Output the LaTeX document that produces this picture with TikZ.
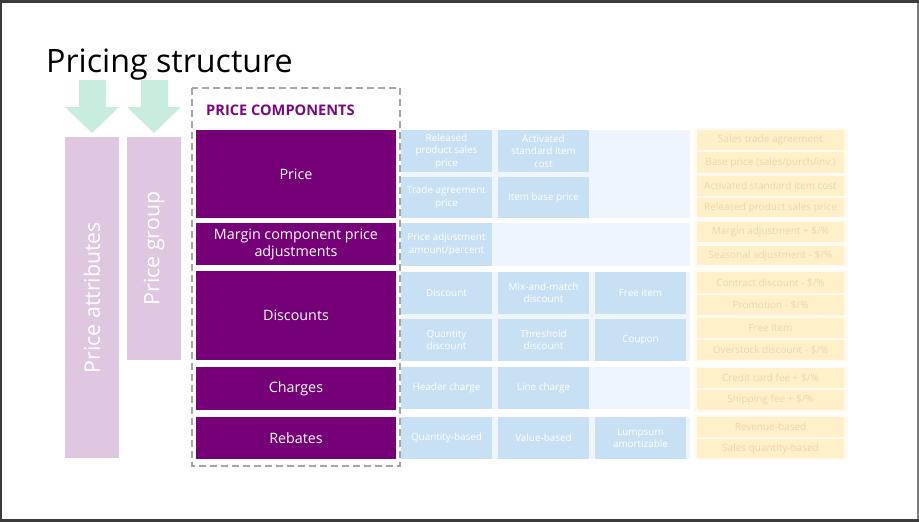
\documentclass[tikz,border=0pt]{standalone}
\usepackage{fontspec}
\setmainfont{Open Sans}
\definecolor{purp}{HTML}{750078}
\definecolor{purptxt}{HTML}{7B0A7F}
\definecolor{lav}{HTML}{DFC6E1}
\definecolor{mint}{HTML}{C8EDDC}
\definecolor{bboxc}{HTML}{C7E0F4}
\definecolor{bpanel}{HTML}{EEF5FC}
\definecolor{yboxc}{HTML}{FFF0C9}
\definecolor{ytext}{HTML}{EAD6AE}
\definecolor{ypanel}{HTML}{FFFAF0}
\definecolor{dashgray}{HTML}{A6A6A6}
\definecolor{framegray}{HTML}{3B3B3B}
\tikzset{
  pbox/.style={fill=purp, text=white, inner sep=0pt, minimum width=200pt, align=center, font=\fontsize{14.3}{17}\selectfont},
  bluebox/.style={fill=bboxc, text=white, minimum width=91pt, minimum height=42pt, inner sep=0pt, align=center, font=\fontsize{9.9}{12.5}\selectfont},
  ybox/.style={fill=yboxc, text=ytext, minimum width=147pt, minimum height=20pt, inner sep=0pt, font=\fontsize{10}{12}\selectfont},
  lavbar/.style={fill=lav, text=white, rotate=90, inner sep=0pt, minimum height=54pt, font=\fontsize{21.3}{25}\selectfont},
  arrowshape/.style={fill=mint},
  bpanelst/.style={fill=bpanel},
  ypanelst/.style={fill=ypanel},
}
\begin{document}
\begin{tikzpicture}[x=1pt,y=-1pt]
\useasboundingbox (0,0) rectangle (919,522);
% frame
\fill[framegray] (0,0) rectangle (919,522);
\fill[white] (2,3) rectangle (916.5,519);
\fill[gray] (916.5,3) rectangle (919,519);
% title
\node[anchor=base west, inner sep=0pt, font=\fontsize{32.2}{36}\selectfont] (title) at (46,72) {Pricing structure};
% green arrows
\fill[arrowshape] (79,80) -- (106,80) -- (106,107) -- (119,107) -- (92,133) -- (65,107) -- (79,107) -- cycle;
\fill[arrowshape] (141,80) -- (168,80) -- (168,107) -- (181,107) -- (154,133) -- (127,107) -- (141,107) -- cycle;
% lavender bars
\node[lavbar, minimum width=321pt] (attr) at (92,297.5) {Price attributes};
\node[lavbar, minimum width=223pt] (group) at (154,248.5) {Price group};
% purple boxes
\node[pbox, minimum height=88pt] (price) at (296,174) {Price};
\node[pbox, minimum height=42pt] (margin) at (296,244) {Margin component price\\adjustments};
\node[pbox, minimum height=89pt] (disc) at (296,315.5) {Discounts};
\node[pbox, minimum height=43pt] (charges) at (296,388.5) {Charges};
\node[pbox, minimum height=42pt] (rebates) at (296,438) {Rebates};
% components heading
\node[anchor=base west, inner sep=0pt, text=purptxt, font=\bfseries\fontsize{14.6}{17}\selectfont] (comp) at (206,115.5) {PRICE COMPONENTS};
% dashed box
\draw[dashgray, line width=1.6pt, dash pattern=on 7pt off 4pt] (192,88) rectangle (400,466);
% blue panels
\fill[bpanelst] (401,130) rectangle (690,218);
\fill[bpanelst] (401,223) rectangle (690,266);
\fill[bpanelst] (401,272) rectangle (690,361);
\fill[bpanelst] (401,367) rectangle (690,409);
\fill[bpanelst] (401,417) rectangle (690,459);
% blue boxes
\node[bluebox] (b11) at (446.5,151) {Released\\product sales\\price};
\node[bluebox] (b12) at (543.5,151) {Activated\\standard item\\cost};
\node[bluebox, minimum height=41pt] (b21) at (446.5,197.5) {Trade agreement\\price};
\node[bluebox, minimum height=41pt] (b22) at (543.5,197.5) {Item base price};
\node[bluebox, minimum height=43pt] (b31) at (446.5,244.5) {Price adjustment\\amount/percent};
\node[bluebox] (b41) at (446.5,293) {Discount};
\node[bluebox] (b42) at (543.5,293) {Mix-and-match\\discount};
\node[bluebox] (b43) at (640.5,293) {Free item};
\node[bluebox] (b51) at (446.5,340) {Quantity\\discount};
\node[bluebox] (b52) at (543.5,340) {Threshold\\discount};
\node[bluebox] (b53) at (640.5,340) {Coupon};
\node[bluebox] (b61) at (446.5,388) {Header charge};
\node[bluebox] (b62) at (543.5,388) {Line charge};
\node[bluebox] (b71) at (446.5,438) {Quantity-based};
\node[bluebox] (b72) at (543.5,438) {Value-based};
\node[bluebox] (b73) at (640.5,438) {Lumpsum\\amortizable};
% yellow panels
\fill[ypanelst] (694,128) rectangle (848,219);
\fill[ypanelst] (694,220) rectangle (848,267);
\fill[ypanelst] (694,270) rectangle (848,362);
\fill[ypanelst] (694,366) rectangle (848,412);
\fill[ypanelst] (694,415) rectangle (848,460);
% yellow boxes
\node[ybox] (y1) at (770.5,140) {Sales trade agreement};
\node[ybox, minimum height=21pt] (y2) at (770.5,162.5) {Base price (sales/purch/inv.)};
\node[ybox] (y3) at (770.5,186) {Activated standard item cost};
\node[ybox, minimum height=19pt] (y4) at (770.5,207.5) {Released product sales price};
\node[ybox] (y5) at (770.5,232) {Margin adjustment + \$/\%};
\node[ybox, minimum height=19pt] (y6) at (770.5,255.5) {Seasonal adjustment - \$/\%};
\node[ybox, minimum height=21pt] (y7) at (770.5,282.5) {Contract discount - \$/\%};
\node[ybox] (y8) at (770.5,305) {Promotion - \$/\%};
\node[ybox] (y9) at (770.5,328) {Free item};
\node[ybox] (y10) at (770.5,350) {Overstock discount - \$/\%};
\node[ybox] (y11) at (770.5,378) {Credit card fee + \$/\%};
\node[ybox] (y12) at (770.5,400) {Shipping fee + \$/\%};
\node[ybox] (y13) at (770.5,427) {Revenue-based};
\node[ybox, minimum height=19pt] (y14) at (770.5,448.5) {Sales quantity-based};
\end{tikzpicture}
\end{document}
